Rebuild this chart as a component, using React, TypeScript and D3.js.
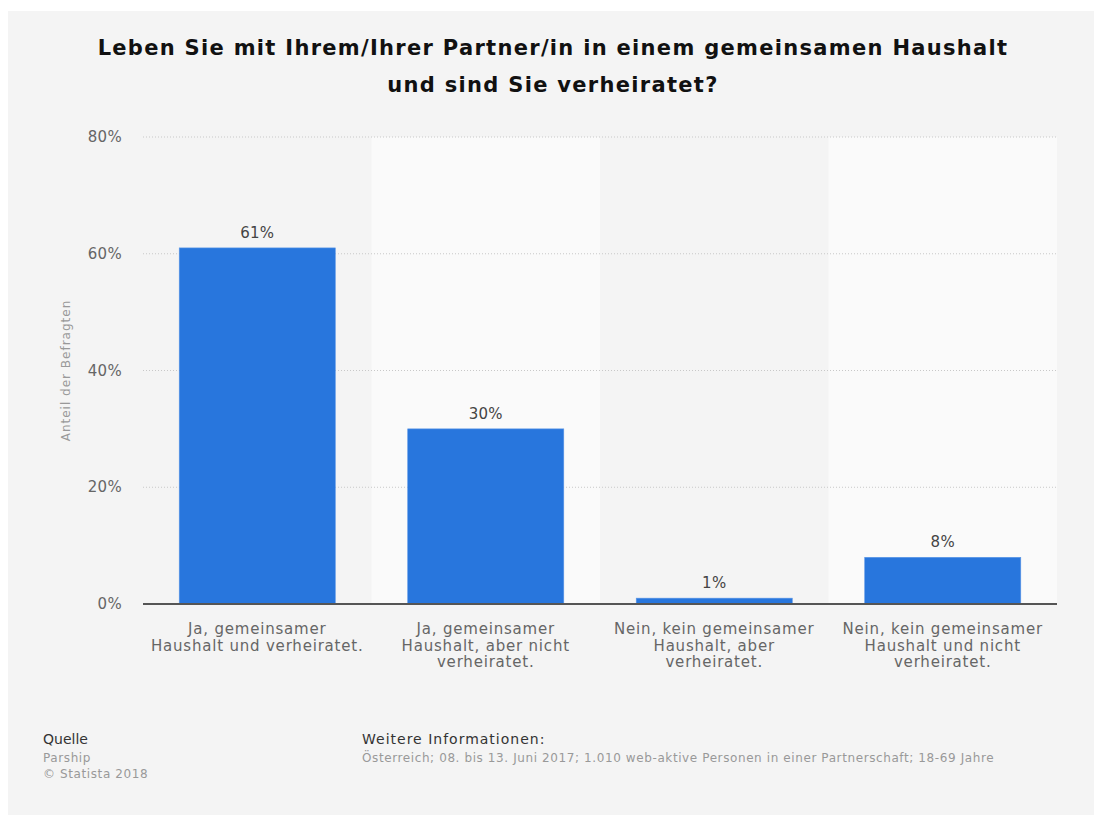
import React from "react";
import * as d3 from "d3";

const categories = ["c1", "c2", "c3", "c4"];
const categoryLabels: string[][] = [
  ["Ja, gemeinsamer", "Haushalt und verheiratet."],
  ["Ja, gemeinsamer", "Haushalt, aber nicht", "verheiratet."],
  ["Nein, kein gemeinsamer", "Haushalt, aber", "verheiratet."],
  ["Nein, kein gemeinsamer", "Haushalt und nicht", "verheiratet."],
];
const values = [61, 30, 1, 8];
const yTicks = [0, 20, 40, 60, 80];
const titleLines = [
  "Leben Sie mit Ihrem/Ihrer Partner/in in einem gemeinsamen Haushalt",
  "und sind Sie verheiratet?",
];
const yAxisTitle = "Anteil der Befragten";
const sourceLines = ["Parship", "© Statista 2018"];
const infoLine =
  "Österreich; 08. bis 13. Juni 2017; 1.010 web-aktive Personen in einer Partnerschaft; 18-69 Jahre";

const W = 1094;
const H = 815;
const FONT = "'DejaVu Sans', sans-serif";

export default function App() {
  const x = d3.scaleBand<string>().domain(categories).range([143, 1057]).padding(0);
  const y = d3.scaleLinear().domain([0, 80]).range([604, 137]);
  const bw = x.bandwidth() * 0.683;

  return (
    <svg
      width={W}
      height={H}
      style={{ position: "absolute", left: 0, top: 0, display: "block" }}
    >
      <rect x={0} y={0} width={W} height={H} fill="#ffffff" />
      <rect x={8} y={11} width={W - 8} height={H - 11} fill="#f4f4f4" />

      {titleLines.map((t, i) => (
        <text
          key={i}
          x={553}
          y={55 + i * 37}
          textAnchor="middle"
          fontFamily={FONT}
          fontWeight="bold"
          fontSize={21}
          letterSpacing={1.3}
          fill="#111"
        >
          {t}
        </text>
      ))}

      {categories.map((c, i) =>
        i % 2 === 1 ? (
          <rect
            key={c}
            x={x(c)}
            y={y(80)}
            width={x.bandwidth()}
            height={y(0) - y(80)}
            fill="#fafafa"
          />
        ) : null
      )}

      {yTicks.map((t) => (
        <g key={t}>
          {t > 0 && (
            <line
              x1={143}
              x2={1057}
              y1={y(t)}
              y2={y(t)}
              stroke="#c8c8c8"
              strokeWidth={1}
              strokeDasharray="1,2"
            />
          )}
          <text
            x={122}
            y={y(t) + 5}
            textAnchor="end"
            fontFamily={FONT}
            fontSize={15}
            letterSpacing={0.3}
            fill="#666"
          >
            {t}%
          </text>
        </g>
      ))}

      <text
        transform={`translate(70,${y(40)}) rotate(-90)`}
        textAnchor="middle"
        fontFamily={FONT}
        fontSize={12}
        letterSpacing={1}
        fill="#999"
      >
        {yAxisTitle}
      </text>

      {categories.map((c, i) => {
        const bx = (x(c) as number) + (x.bandwidth() - bw) / 2;
        return (
          <g key={c}>
            <rect
              x={bx}
              y={y(values[i])}
              width={bw}
              height={y(0) - y(values[i])}
              fill="#2876dd"
              stroke="#5a96e6"
              strokeWidth={0.6}
            />
            <text
              x={bx + bw / 2}
              y={y(values[i]) - 10}
              textAnchor="middle"
              fontFamily={FONT}
              fontSize={15}
              letterSpacing={0.3}
              fill="#444"
            >
              {values[i]}%
            </text>
          </g>
        );
      })}

      <line x1={143} x2={1057} y1={604} y2={604} stroke="#555" strokeWidth={2} />

      {categories.map((c, i) => (
        <text
          key={c}
          x={(x(c) as number) + x.bandwidth() / 2}
          textAnchor="middle"
          fontFamily={FONT}
          fontSize={15}
          letterSpacing={0.8}
          fill="#666"
        >
          {categoryLabels[i].map((l, j) => (
            <tspan key={j} x={(x(c) as number) + x.bandwidth() / 2} y={634 + j * 16.5}>
              {l}
            </tspan>
          ))}
        </text>
      ))}

      <text x={43} y={744} fontFamily={FONT} fontSize={14} fill="#333">
        Quelle
      </text>
      {sourceLines.map((s, i) => (
        <text
          key={i}
          x={43}
          y={762 + i * 16}
          fontFamily={FONT}
          fontSize={12}
          letterSpacing={0.6}
          fill="#999"
        >
          {s}
        </text>
      ))}
      <text x={362} y={744} fontFamily={FONT} fontSize={14} letterSpacing={1} fill="#333">
        Weitere Informationen:
      </text>
      <text x={362} y={762} fontFamily={FONT} fontSize={12} letterSpacing={0.6} fill="#999">
        {infoLine}
      </text>
    </svg>
  );
}
